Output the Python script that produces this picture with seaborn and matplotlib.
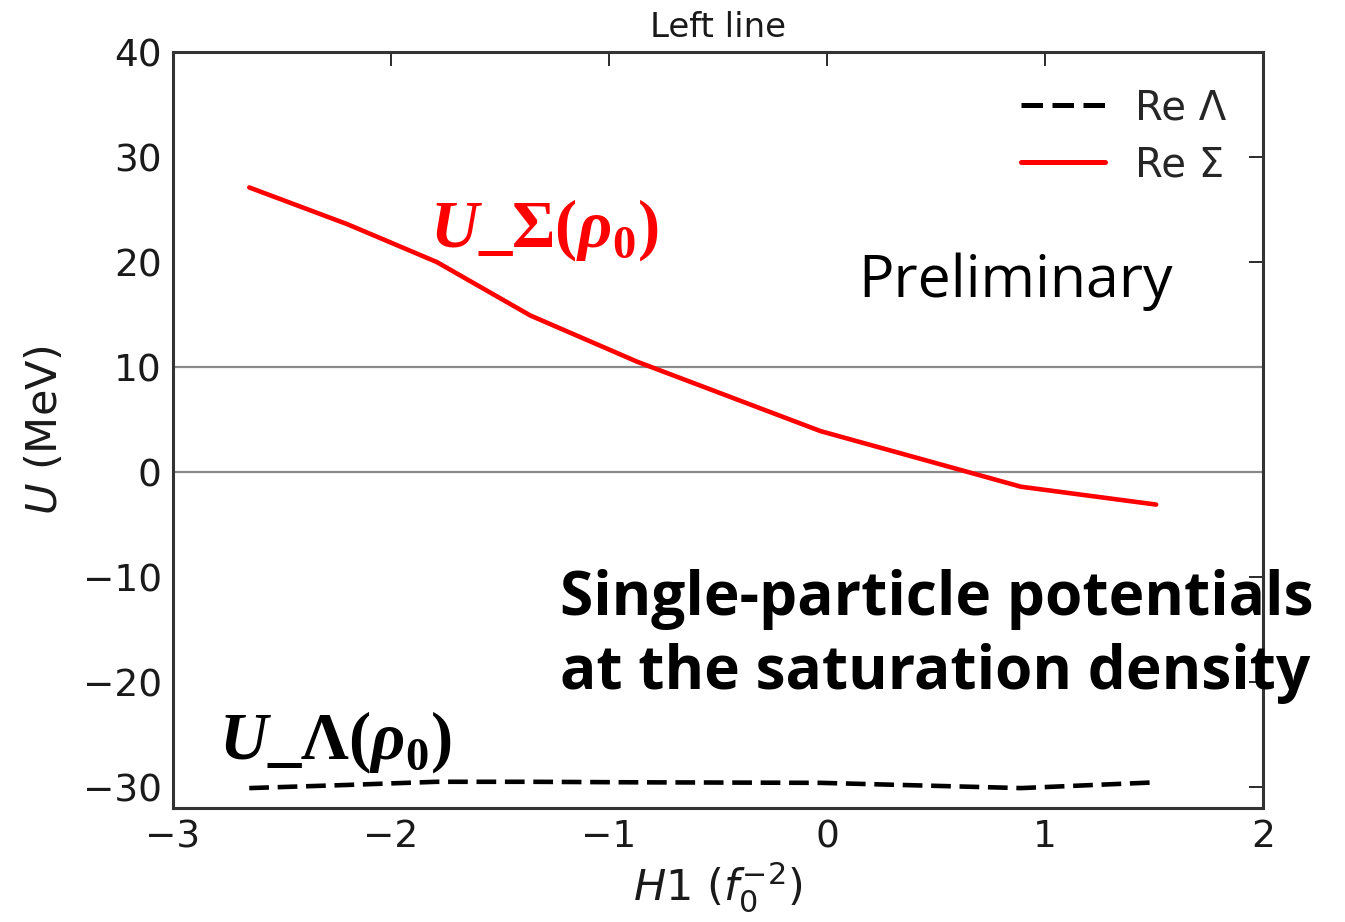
import matplotlib
matplotlib.use("Agg")
import matplotlib.pyplot as plt
import seaborn as sns
import pandas as pd

# H1 coupling (f0^-2) and single-particle potentials U (MeV) at rho_0
h1_values = [-2.65, -2.2, -1.79, -1.36, -0.87, -0.03, 0.89, 1.51]
re_lambda = [-30.1, -29.8, -29.5, -29.5, -29.55, -29.6, -30.1, -29.55]
re_sigma = [27.1, 23.6, 20.0, 14.9, 10.5, 3.9, -1.4, -3.1]
series_labels = ["Re \u039b", "Re \u03a3"]
x_ticks = [-3, -2, -1, 0, 1, 2]
y_ticks = [-30, -20, -10, 0, 10, 20, 30, 40]
ref_levels = [0, 10]

sns.set_theme(style="white")
plt.rcParams["font.family"] = ["DejaVu Sans"]
plt.rcParams["mathtext.fontset"] = "custom"
plt.rcParams["mathtext.rm"] = "DejaVu Sans"
plt.rcParams["mathtext.it"] = "DejaVu Sans:italic"
plt.rcParams["mathtext.bf"] = "Liberation Serif:bold"
plt.rcParams["mathtext.bfit"] = "Liberation Serif:italic:bold"

df = pd.DataFrame({
    "H1": h1_values * 2,
    "U": re_lambda + re_sigma,
    "series": [series_labels[0]] * len(h1_values) + [series_labels[1]] * len(h1_values),
})

fig = plt.figure(figsize=(13.45, 9.22), dpi=100)
ax = fig.add_axes([0.1286, 0.1236, 0.8104, 0.82])

for lvl in ref_levels:
    ax.axhline(lvl, color="#8a8a8a", lw=1.6, zorder=1)

sns.lineplot(data=df, x="H1", y="U", hue="series", style="series",
             palette={series_labels[0]: "black", series_labels[1]: "red"},
             dashes={series_labels[0]: (4.3, 1.9), series_labels[1]: ""},
             linewidth=3.3, ax=ax, zorder=3)

ax.set_xlim(-3, 2)
ax.set_ylim(-32, 40)
ax.set_xticks(x_ticks)
ax.set_yticks(y_ticks)
ax.tick_params(direction="in", length=10, width=1.3, labelsize=27,
               top=True, right=True, colors="#1a1a1a", pad=8)
for s in ax.spines.values():
    s.set_linewidth(2.2)
    s.set_color("#333333")

ax.set_xlabel(r"$H1\ (f_0^{-2})$", fontsize=31, labelpad=4, color="#1a1a1a")
ax.set_ylabel(r"$U$ (MeV)", fontsize=31, labelpad=12, color="#1a1a1a")
ax.set_title("Left line", fontsize=24.5, pad=11, color="#1a1a1a")

leg = ax.legend(loc="upper right", frameon=False, fontsize=29,
                handlelength=2.1, handletextpad=0.75, labelspacing=0.42,
                borderaxespad=0.5)
for h in leg.get_lines():
    h.set_linewidth(3.6)

ax.text(-1.82, 21.5, r"$\mathbfit{U}$_$\mathbf{\Sigma}$($\mathbfit{\rho}_{\mathbf{0}}$)",
        color="red", fontsize=48, fontfamily="Liberation Serif", fontweight="bold",
        va="baseline", ha="left")
ax.text(-2.79, -27.3, r"$\mathbfit{U}$_$\mathbf{\Lambda}$($\mathbfit{\rho}_{\mathbf{0}}$)",
        color="black", fontsize=48, fontfamily="Liberation Serif", fontweight="bold",
        va="baseline", ha="left")
ax.text(0.142, 16.7, "Preliminary", fontsize=42.5, fontfamily="Open Sans",
        color="black", va="baseline", ha="left")
ax.text(-1.225, -13.6, "Single-particle potentials",
        fontsize=43.5, fontfamily="Open Sans", fontweight="bold", color="black",
        va="baseline", ha="left")
ax.text(-1.225, -20.7, "at the saturation density",
        fontsize=43.5, fontfamily="Open Sans", fontweight="bold", color="black",
        va="baseline", ha="left")

fig.savefig("out.png", dpi=100)
